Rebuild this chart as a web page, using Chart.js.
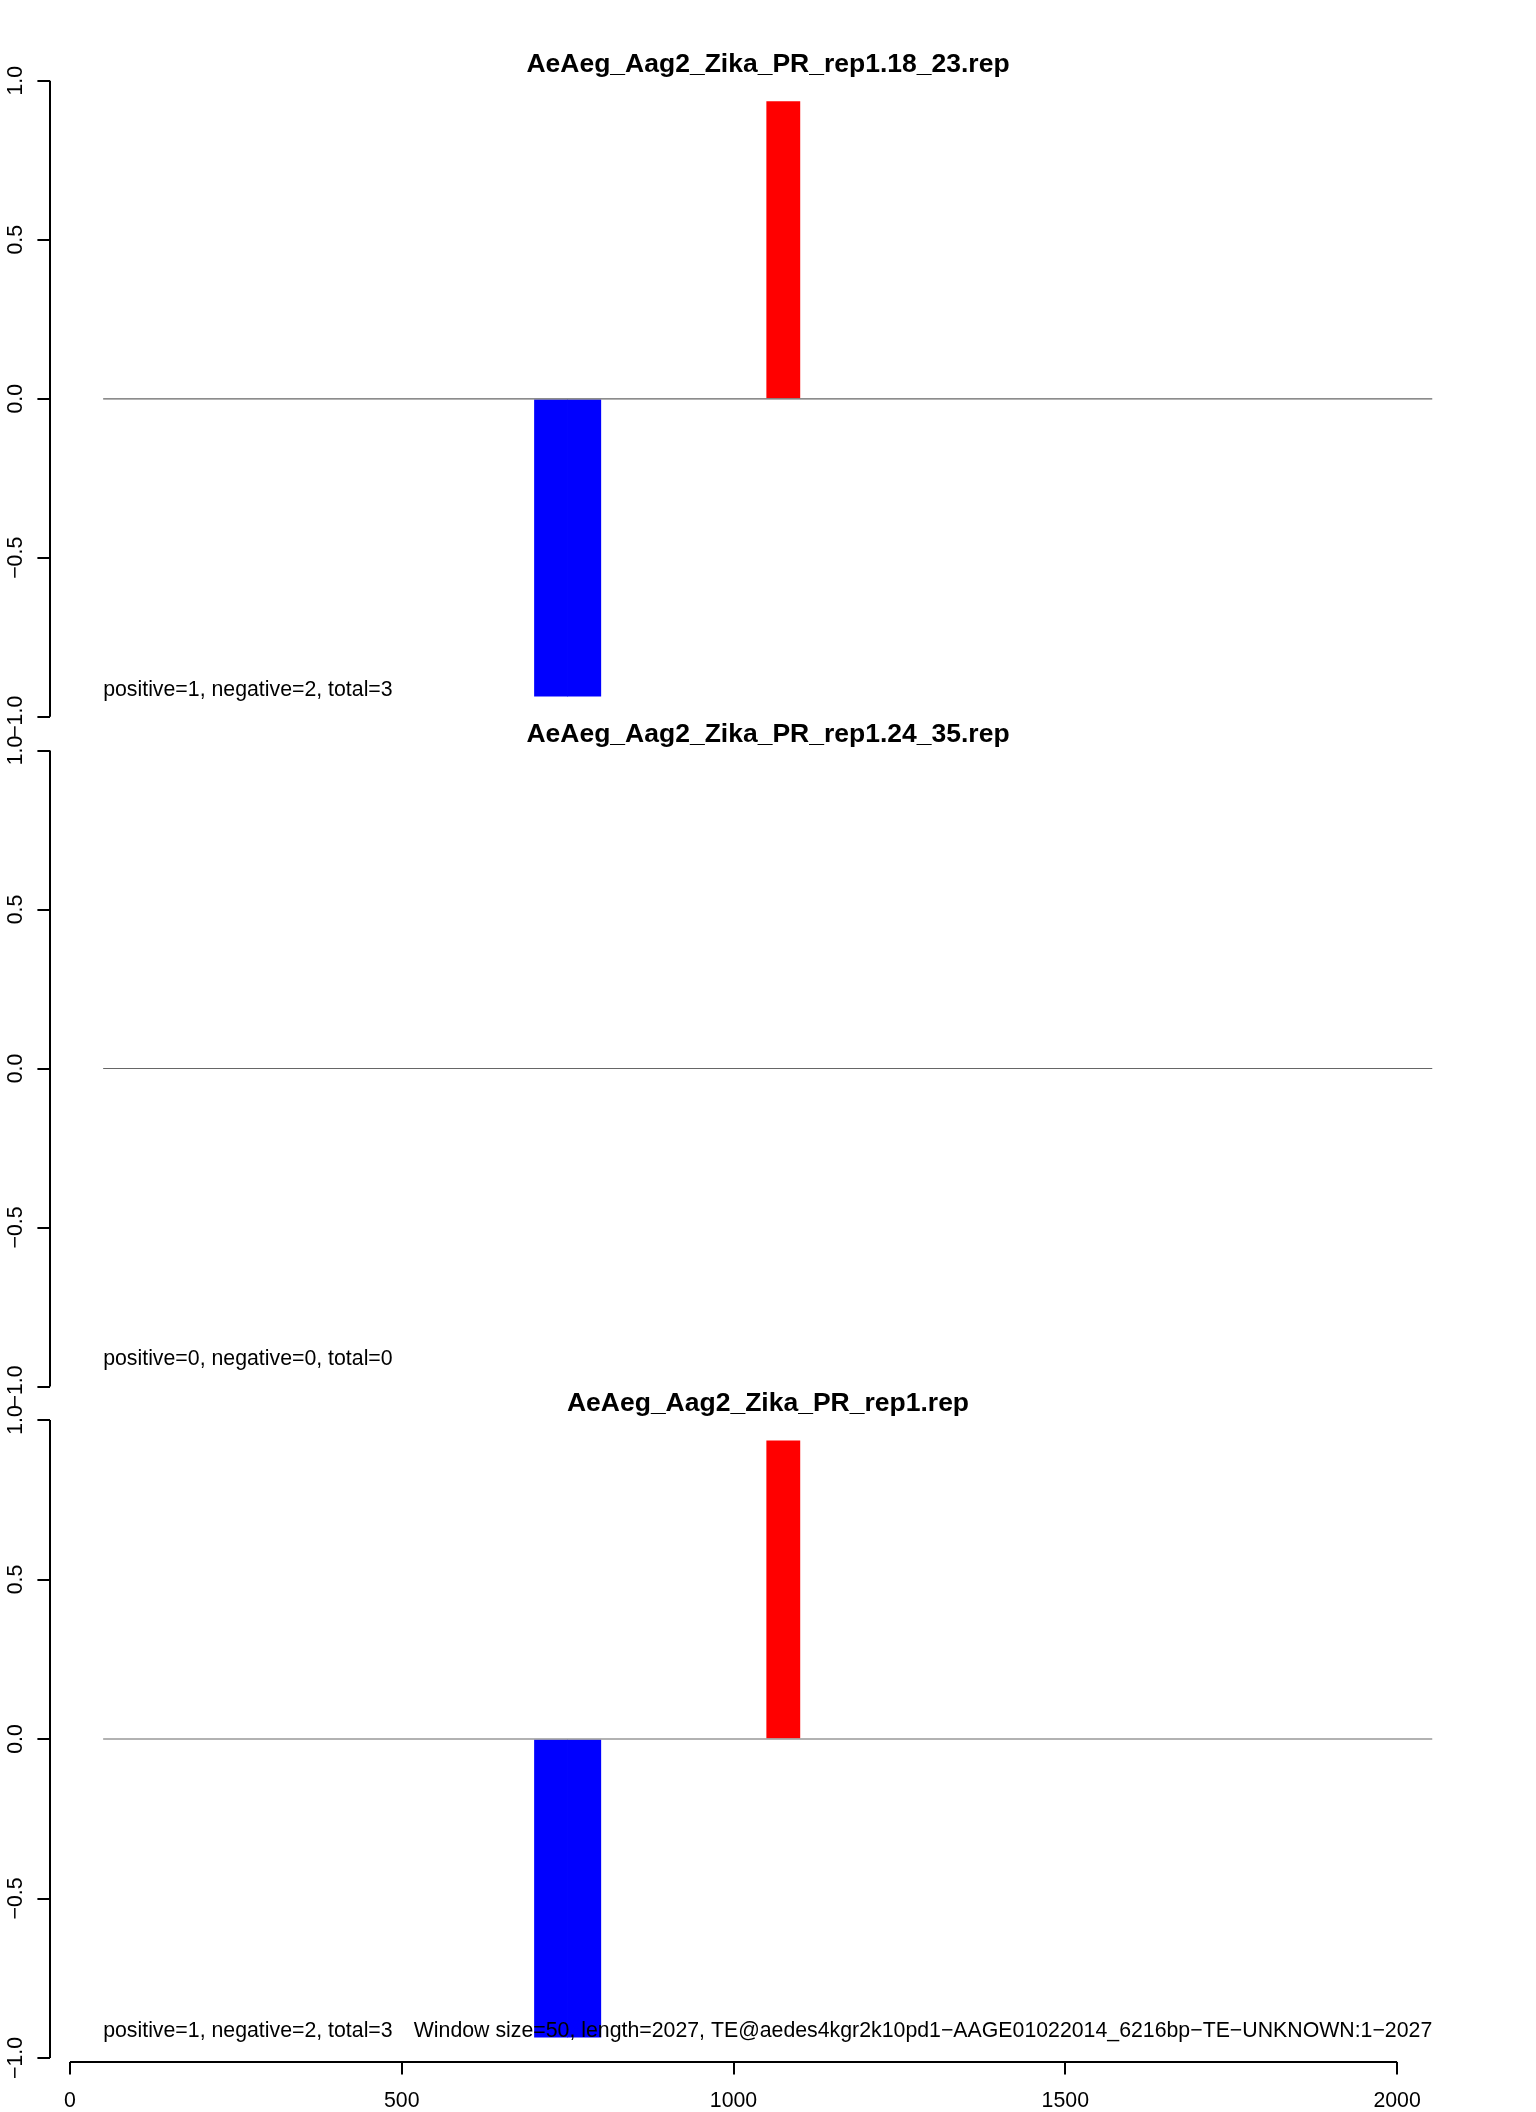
<!DOCTYPE html>
<html>
<head>
<meta charset="utf-8">
<script src="https://cdn.jsdelivr.net/npm/chart.js@4.4.1/dist/chart.umd.min.js"></script>
<style>
  html, body { margin: 0; padding: 0; background: #fff; }
  #wrap { position: relative; width: 1536px; height: 2112px; }
  #wrap canvas { position: absolute; left: 0; top: 0; }
</style>
</head>
<body>
<div id="wrap">
  <canvas id="p1" width="1536" height="2112"></canvas>
  <canvas id="p2" width="1536" height="2112"></canvas>
  <canvas id="p3" width="1536" height="2112"></canvas>
</div>
<script>
// data
const windowSize = 50;
const panelTitles = ["AeAeg_Aag2_Zika_PR_rep1.18_23.rep", "AeAeg_Aag2_Zika_PR_rep1.24_35.rep", "AeAeg_Aag2_Zika_PR_rep1.rep"];
const posStarts = [[1050], [], [1050]];
const posValues = [[0.935], [], [0.935]];
const negStarts = [[700, 750], [], [700, 750]];
const negValues = [[-0.935, -0.935], [], [-0.935, -0.935]];
const countLabels = ["positive=1, negative=2, total=3", "positive=0, negative=0, total=0", "positive=1, negative=2, total=3"];
const footLabel = "Window size=50, length=2027, TE@aedes4kgr2k10pd1\u2212AAGE01022014_6216bp\u2212TE\u2212UNKNOWN:1\u22122027";
const seqRange = [50, 2053];
const xTicks = [0, 500, 1000, 1500, 2000];
const yTicks = [-1, -0.5, 0, 0.5, 1];
const yTickLabels = ["\u22121.0", "\u22120.5", "0.0", "0.5", "1.0"];

// layout (pixels)
const FONT = '"Liberation Sans", Arial, Helvetica, sans-serif';
const panelTop = [80.8, 750.5, 1420];
const panelBottom = [716.8, 1386.5, 2062];
const panelYMin = [-1, -1, -1.0125];

Chart.defaults.font.family = FONT;
Chart.defaults.font.size = 21.3;
Chart.defaults.color = '#000';

const overlay = {
    id: 'overlay',
    afterDatasetsDraw(chart) {
        const { ctx, chartArea, scales: { x, y } } = chart;
        const i = chart.options.plugins.overlay.panel;
        ctx.save();
        ctx.strokeStyle = '#000';
        ctx.lineWidth = 2;
        ctx.beginPath();
        ctx.moveTo(chartArea.left, y.getPixelForValue(1));
        ctx.lineTo(chartArea.left, y.getPixelForValue(-1));
        ctx.stroke();

        ctx.fillStyle = '#000';
        ctx.font = '21.3px ' + FONT;
        ctx.textAlign = 'center';
        ctx.textBaseline = 'alphabetic';
        yTicks.forEach((v, k) => {
            ctx.save();
            ctx.translate(21.5, y.getPixelForValue(v));
            ctx.rotate(-Math.PI / 2);
            ctx.fillText(yTickLabels[k], 0, 0);
            ctx.restore();
        });

        ctx.font = 'bold 26.5px ' + FONT;
        ctx.textBaseline = 'middle';
        ctx.fillText(panelTitles[i], (chartArea.left + chartArea.right) / 2, chartArea.top - 16);

        ctx.font = '21.3px ' + FONT;
        ctx.textAlign = 'left';
        ctx.fillText(countLabels[i], x.getPixelForValue(seqRange[0]), y.getPixelForValue(-0.915));

        if (i === 2) {
            ctx.textAlign = 'right';
            ctx.fillText(footLabel, x.getPixelForValue(seqRange[1]), y.getPixelForValue(-0.915));
            ctx.beginPath();
            ctx.moveTo(x.getPixelForValue(xTicks[0]), chartArea.bottom);
            ctx.lineTo(x.getPixelForValue(xTicks[xTicks.length - 1]), chartArea.bottom);
            ctx.stroke();
        }
        ctx.restore();
    }
};

function makePanel(i) {
    const last = i === 2;
    const toBars = (starts, vals) => starts.map((s, k) => ({ x: s + windowSize / 2, y: vals[k] }));
    return new Chart(document.getElementById('p' + (i + 1)), {
        type: 'bar',
        data: {
            datasets: [
                {
                    type: 'line',
                    data: [{ x: seqRange[0], y: 0 }, { x: seqRange[1], y: 0 }],
                    borderColor: '#666',
                    borderWidth: 1.2,
                    pointRadius: 0,
                    order: 0
                },
                {
                    data: toBars(negStarts[i], negValues[i]),
                    backgroundColor: '#0000ff',
                    borderWidth: 0,
                    grouped: false,
                    barPercentage: 1,
                    categoryPercentage: 1,
                    order: 1
                },
                {
                    data: toBars(posStarts[i], posValues[i]),
                    backgroundColor: '#ff0000',
                    borderWidth: 0,
                    grouped: false,
                    barPercentage: 1,
                    categoryPercentage: 1,
                    order: 1
                }
            ]
        },
        options: {
            responsive: false,
            animation: false,
            devicePixelRatio: 1,
            layout: {
                padding: { top: panelTop[i], bottom: last ? 0 : 2112 - panelBottom[i], left: 0, right: 50 }
            },
            plugins: {
                legend: { display: false },
                tooltip: { enabled: false },
                overlay: { panel: i }
            },
            scales: {
                x: {
                    type: 'linear',
                    display: last,
                    offset: false,
                    min: -30.1,
                    max: 2134,
                    afterBuildTicks: s => { s.ticks = xTicks.map(v => ({ value: v })); },
                    afterFit: s => { s.height = last ? 50 : 0; },
                    border: { display: false },
                    grid: { display: true, offset: false, drawOnChartArea: false, drawTicks: true, tickLength: 12.6, color: '#000', lineWidth: 2 },
                    ticks: { callback: v => String(v), padding: 14, maxRotation: 0, autoSkip: false, font: { size: 21.3 } }
                },
                y: {
                    min: panelYMin[i],
                    max: 1,
                    afterBuildTicks: s => { s.ticks = yTicks.map(v => ({ value: v })); },
                    afterFit: s => { s.width = 50; },
                    border: { display: false },
                    grid: { display: true, drawOnChartArea: false, drawTicks: true, tickLength: 12.6, color: '#000', lineWidth: 2 },
                    ticks: { display: false }
                }
            }
        },
        plugins: [overlay]
    });
}

[0, 1, 2].forEach(makePanel);
</script>
</body>
</html>
